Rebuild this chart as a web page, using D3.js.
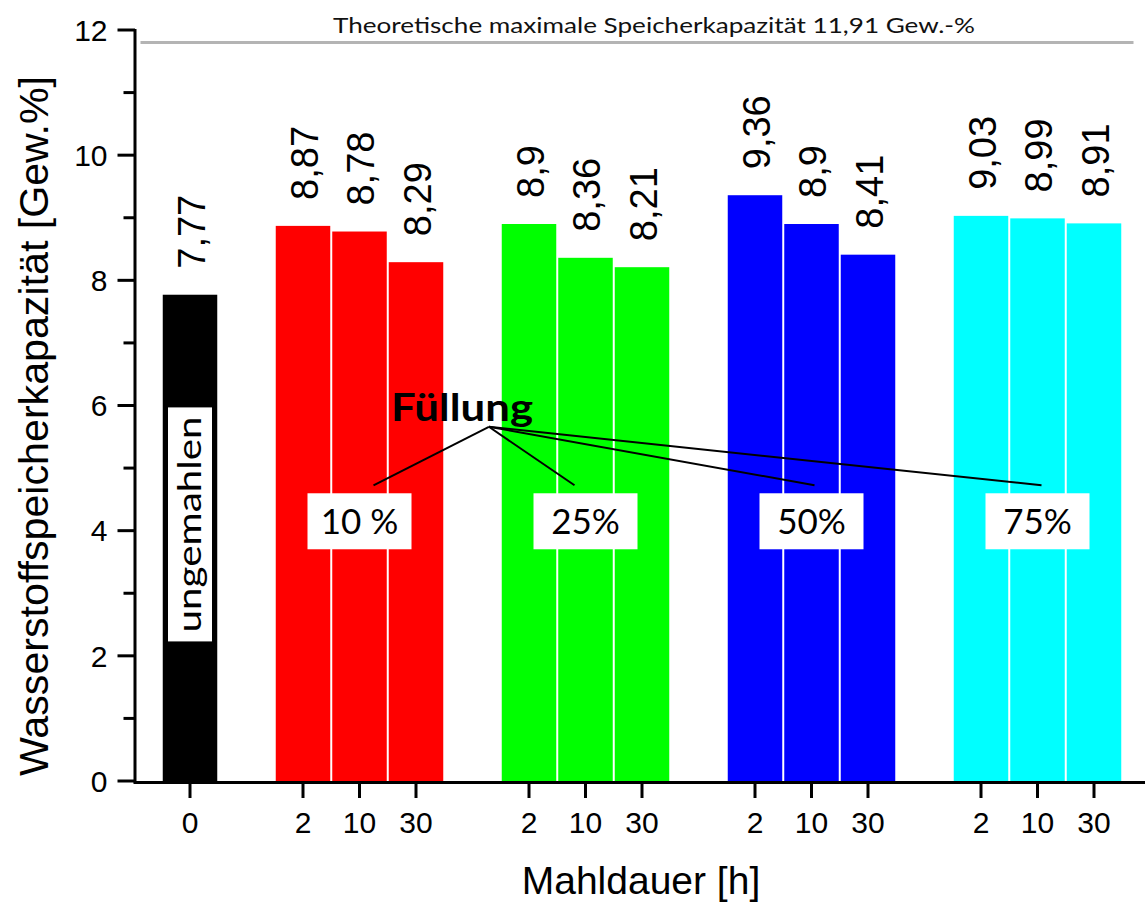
<!DOCTYPE html>
<html>
<head>
<meta charset="utf-8">
<script src="https://cdn.jsdelivr.net/npm/d3@7"></script>
<style>
  body { margin: 0; background: #fff; }
  svg { display: block; }
</style>
</head>
<body>
<div id="chart"></div>
<script>
// -------- Data --------
const fillLevels = ['10 %', '25%', '50%', '75%'];
const millTimes  = ['2', '10', '30'];
const groupColors = ['#ff0000', '#00ff00', '#0000ff', '#00ffff'];
const unmilledValue = 7.77;
const values10 = [8.87, 8.78, 8.29];
const values25 = [8.9, 8.36, 8.21];
const values50 = [9.36, 8.9, 8.41];
const values75 = [9.03, 8.99, 8.91];
const yTicks = [0, 2, 4, 6, 8, 10, 12];
const theoLineValue = 11.8;   // where the grey line sits in the picture
const theoText = 'Theoretische maximale Speicherkapazität 11,91 Gew.-%';

const groupValues = [values10, values25, values50, values75];

// flat bar list: slot 0 = unmilled, then groups of 3 with one empty slot between
const bars = [{ slot: 0, label: '0', value: unmilledValue, color: '#000000' }];
groupValues.forEach((vals, g) => {
  vals.forEach((v, i) => {
    bars.push({ slot: 2 + g * 4 + i, label: millTimes[i], value: v, color: groupColors[g] });
  });
});

// -------- Dimensions --------
const width = 1145, height = 903;

const x = d3.scaleLinear().domain([-1, 17]).range([133.5, 1150.5]);
const y = d3.scaleLinear().domain([0, 12]).range([781, 30]);
const slotW = x(1) - x(0);
const barW  = slotW - 2;

const svg = d3.select('#chart').append('svg')
  .attr('width', width)
  .attr('height', height);

const arial = 'Arial, "Liberation Sans", Helvetica, sans-serif';
const calibri = 'Lato, "Open Sans", sans-serif';

// -------- Theoretical max line --------
svg.append('line')
  .attr('x1', x(-1) + 7).attr('x2', x(17) - 17)
  .attr('y1', y(theoLineValue)).attr('y2', y(theoLineValue))
  .attr('stroke', '#b4b4b4')
  .attr('stroke-width', 3);

svg.append('text')
  .attr('x', 333).attr('y', 33)
  .attr('font-family', calibri)
  .attr('font-size', 22)
  .attr('textLength', 642)
  .attr('lengthAdjust', 'spacingAndGlyphs')
  .attr('fill', '#111')
  .text(theoText);

// -------- Bars --------
svg.append('g').selectAll('rect')
  .data(bars)
  .join('rect')
    .attr('x', d => x(d.slot) - barW / 2)
    .attr('width', barW)
    .attr('y', d => y(d.value))
    .attr('height', d => y(0) - y(d.value))
    .attr('fill', d => d.color);

// value labels, rotated
svg.append('g').selectAll('text')
  .data(bars)
  .join('text')
    .attr('transform', d => `translate(${x(d.slot) + 1},${y(d.value) - 26}) rotate(-90)`)
    .attr('dy', '0.36em')
    .attr('font-family', arial)
    .attr('font-size', 38)
    .attr('fill', '#000')
    .text(d => String(d.value).replace('.', ','));

// -------- Axes --------
const yAxis = svg.append('g');
yAxis.append('line')
  .attr('x1', x(-1) + 1.5).attr('x2', x(-1) + 1.5)
  .attr('y1', y(12) - 1).attr('y2', y(0) + 1.5)
  .attr('stroke', '#000').attr('stroke-width', 3);

yAxis.selectAll('line.major')
  .data(yTicks)
  .join('line')
    .attr('class', 'major')
    .attr('x1', x(-1) - 16).attr('x2', x(-1) + 1.5)
    .attr('y1', d => y(d)).attr('y2', d => y(d))
    .attr('stroke', '#000').attr('stroke-width', 3);

yAxis.selectAll('line.minor')
  .data(d3.range(1, 12, 2))
  .join('line')
    .attr('class', 'minor')
    .attr('x1', x(-1) - 10).attr('x2', x(-1) + 1.5)
    .attr('y1', d => y(d)).attr('y2', d => y(d))
    .attr('stroke', '#000').attr('stroke-width', 3);

yAxis.selectAll('text')
  .data(yTicks)
  .join('text')
    .attr('x', x(-1) - 26)
    .attr('y', d => y(d))
    .attr('dy', '0.36em')
    .attr('text-anchor', 'end')
    .attr('font-family', arial)
    .attr('font-size', 30)
    .text(d => d);

const xAxis = svg.append('g');
xAxis.append('line')
  .attr('x1', x(-1)).attr('x2', width)
  .attr('y1', y(0) + 1.5).attr('y2', y(0) + 1.5)
  .attr('stroke', '#000').attr('stroke-width', 3);

xAxis.selectAll('line.tick')
  .data(bars)
  .join('line')
    .attr('class', 'tick')
    .attr('x1', d => x(d.slot)).attr('x2', d => x(d.slot))
    .attr('y1', y(0) + 1.5).attr('y2', y(0) + 17)
    .attr('stroke', '#000').attr('stroke-width', 3);

xAxis.selectAll('text')
  .data(bars)
  .join('text')
    .attr('x', d => x(d.slot))
    .attr('y', y(0) + 52)
    .attr('text-anchor', 'middle')
    .attr('font-family', arial)
    .attr('font-size', 30)
    .text(d => d.label);

// -------- Axis titles --------
svg.append('text')
  .attr('x', 641)
  .attr('y', 894)
  .attr('text-anchor', 'middle')
  .attr('font-family', arial)
  .attr('font-size', 39)
  .text('Mahldauer [h]');

svg.append('text')
  .attr('transform', `translate(48,${(y(0) + 75) / 2 - 2}) rotate(-90)`)
  .attr('text-anchor', 'middle')
  .attr('font-family', arial)
  .attr('font-size', 40)
  .attr('textLength', 700)
  .attr('lengthAdjust', 'spacingAndGlyphs')
  .text('Wasserstoffspeicherkapazität [Gew.%]');

// -------- "ungemahlen" label --------
const ug = svg.append('g')
  .attr('transform', `translate(${x(0)},${y(4.1)})`);
ug.append('rect')
  .attr('x', -22).attr('y', -117)
  .attr('width', 44).attr('height', 234)
  .attr('fill', '#fff');
ug.append('text')
  .attr('transform', 'rotate(-90)')
  .attr('text-anchor', 'middle')
  .attr('dy', '0.34em')
  .attr('font-family', calibri)
  .attr('font-size', 33)
  .attr('textLength', 216)
  .attr('lengthAdjust', 'spacingAndGlyphs')
  .text('ungemahlen');

// -------- Füllung annotation --------
const origin = [x(5.29), y(5.66)];
const boxValue = 4.15;
const lineEndDx = [14, -11, 3, 4];

const ann = svg.append('g');
ann.selectAll('line')
  .data(fillLevels)
  .join('line')
    .attr('x1', origin[0]).attr('y1', origin[1])
    .attr('x2', (d, g) => x(3 + g * 4) + lineEndDx[g])
    .attr('y2', y(boxValue) + 28 - 64)
    .attr('stroke', '#000').attr('stroke-width', 2);

ann.append('text')
  .attr('x', 462).attr('y', 421)
  .attr('text-anchor', 'middle')
  .attr('font-family', calibri)
  .attr('font-weight', 'bold')
  .attr('font-size', 38)
  .attr('textLength', 142)
  .attr('lengthAdjust', 'spacingAndGlyphs')
  .text('Füllung');

const boxes = ann.selectAll('g.box')
  .data(fillLevels)
  .join('g')
    .attr('class', 'box')
    .attr('transform', (d, g) => `translate(${x(3 + g * 4)},${y(boxValue)})`);

boxes.append('rect')
  .attr('x', -52).attr('y', -28)
  .attr('width', 104).attr('height', 56)
  .attr('fill', '#fff');

boxes.append('text')
  .attr('text-anchor', 'middle')
  .attr('dy', '0.36em')
  .attr('font-family', calibri)
  .attr('font-size', 35)
  .text(d => d);
</script>
</body>
</html>
